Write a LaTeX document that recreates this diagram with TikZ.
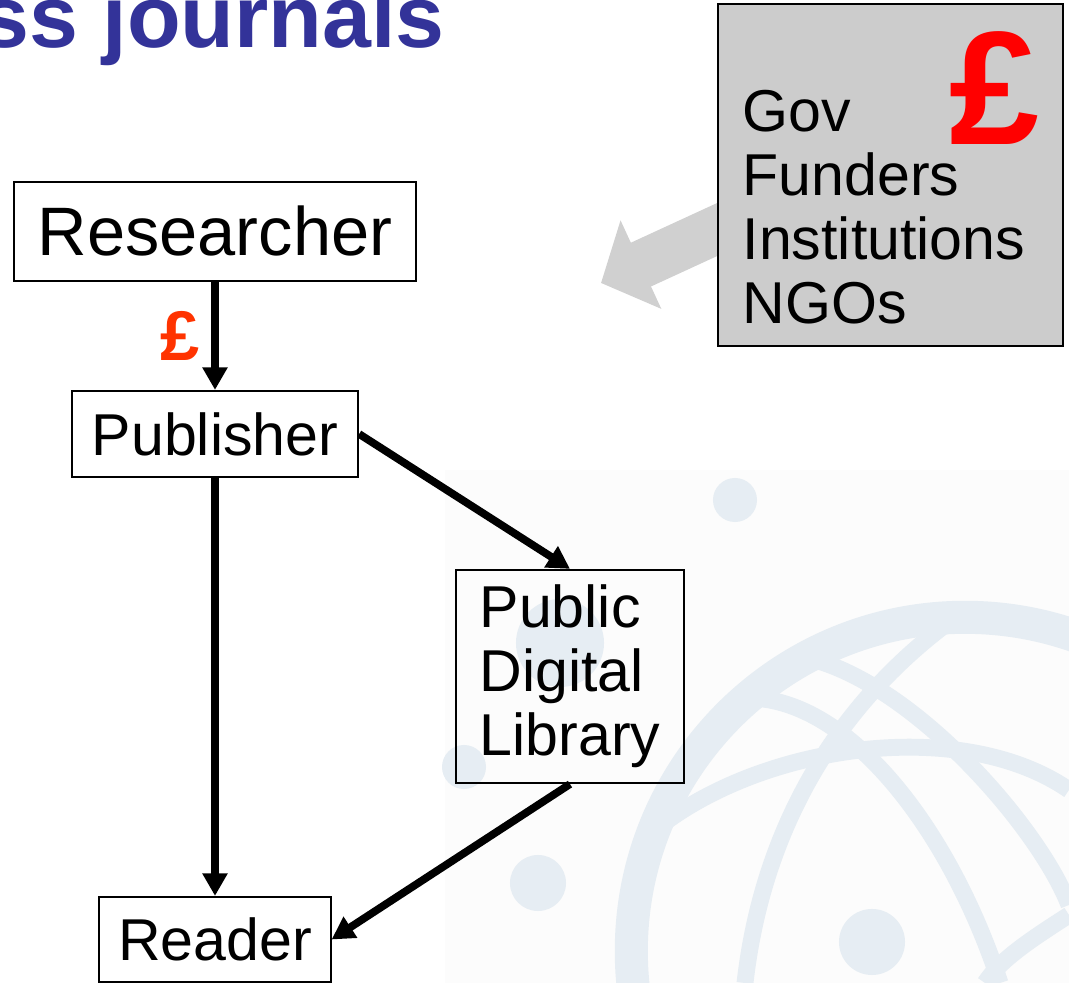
\documentclass[tikz,border=0pt]{standalone}
\usepackage{fontspec}
\setmainfont{Liberation Sans}
\usepackage{xcolor}
\usetikzlibrary{positioning,arrows.meta}

\definecolor{titleblue}{RGB}{51,51,153}
\definecolor{globeblue}{RGB}{230,237,243}
\definecolor{paleback}{RGB}{252,252,252}
\definecolor{fundgray}{RGB}{204,204,204}
\definecolor{arrowgray}{RGB}{208,208,208}
\definecolor{feered}{RGB}{255,51,0}

\newcommand{\midfont}{\fontsize{16.8}{18.2}\selectfont}

\begin{document}
\begin{tikzpicture}[
    x=0.01cm, y=-0.01cm,
    rolenode/.style={rectangle, draw, line width=0.6pt, inner sep=0pt, font=\midfont},
    fundnode/.style={rectangle, draw, line width=0.6pt, fill=fundgray, inner sep=0pt},
    flow/.style={-{Triangle[length=6.4pt,width=6.8pt]}, line width=2.2pt},
    grant/.style={arrowgray, line width=13.7pt, -{Triangle[length=12.5pt,width=27pt]}},
    globe/.style={globeblue, line width=4.8pt}
]
    \useasboundingbox (0,0) rectangle (1069,983);
    \clip (0,0) rectangle (1069,983);

    % Background logo
    \fill[paleback] (445,470) rectangle (1069,983);
    \draw[globeblue, line width=9.4pt] (965,951) circle (3.335cm);
    \draw[globe] (655,830) .. controls (760,745) and (960,715) .. (1069,790);
    \draw[globe] (945,625) .. controls (820,720) and (760,850) .. (745,983);
    \draw[globe] (750,698) .. controls (850,700) and (950,830) .. (1000,983);
    \draw[globe] (815,660) .. controls (920,690) and (1040,830) .. (1069,905);
    \draw[globe] (1069,915) .. controls (1030,940) and (1000,960) .. (985,983);
    \fill[globeblue] (735,500) circle (0.22cm);
    \fill[globeblue] (464,767) circle (0.22cm);
    \fill[globeblue] (560,643) circle (0.44cm);
    \fill[globeblue] (538,883) circle (0.28cm);
    \fill[globeblue] (872,942) circle (0.33cm);

    % Title
    \node[anchor=base west, inner sep=0pt, text=titleblue,
          font=\fontsize{25}{30}\selectfont\bfseries] (title) at (-20,48) {ss journals};

    % Funders
    \coordinate (grantstart) at (740,219);
    \coordinate (granttip) at (601,283);
    \draw[grant] (grantstart) -- (granttip);
    \node[fundnode, minimum width=3.45cm, minimum height=3.42cm] (funders) at (890.5,175) {};
    \node[anchor=north west, inner sep=0pt, align=left, font=\midfont] (fundtext) at (742,90)
        {Gov\\Funders\\Institutions\\NGOs};
    \node[inner sep=0pt, text=red, font=\fontsize{46}{50}\selectfont\bfseries] (bigfee) at (994,88) {£};

    % Chain
    \node[rolenode, minimum width=4.01cm, minimum height=0.99cm,
          font=\fontsize{19.5}{23}\selectfont] (researcher) at (215,231.5) {Researcher};
    \node[rolenode, minimum width=2.86cm, minimum height=0.86cm] (publisher) at (215,434) {Publisher};
    \node[rolenode, minimum width=2.28cm, minimum height=2.13cm, align=left] (library) at (570,676.5)
        {Public\\Digital\\Library};
    \node[rolenode, minimum width=2.31cm, minimum height=0.85cm] (reader) at (215,939.5) {Reader};

    \draw[flow] (researcher) -- node[left=0.12cm, inner sep=0pt, text=feered,
          font=\fontsize{20}{24}\selectfont\bfseries] (fee) {£} (publisher);
    \draw[flow] (publisher.east) -- (library.north);
    \draw[flow] (publisher) -- (reader);
    \draw[flow] (library.south) -- (reader.east);
\end{tikzpicture}
\end{document}
